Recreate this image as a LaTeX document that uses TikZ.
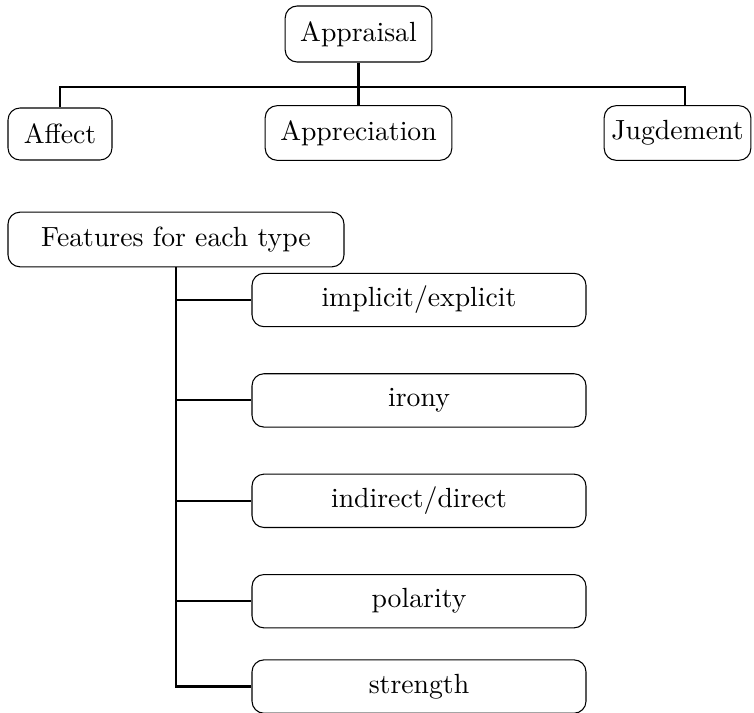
\documentclass[tikz,border=0pt]{standalone}
\usetikzlibrary{positioning}
\tikzset{cat node/.style={draw,rounded corners=4.5pt,inner sep=0pt,line width=0.4pt,minimum height=20.5pt,font=\fontsize{10.4}{12.5}\selectfont},
feat node/.style={cat node,minimum width=125.25pt,minimum height=20pt},
link/.style={line width=0.8pt},}
\newcommand{\br}[2]{\draw[link] (#1.south |- #2.west) -- (#2.west);}
\newcommand{\lastbr}[2]{\draw[link] (#1.south) |- (#2.west);}

\begin{document}
\begin{tikzpicture}[x=0.375pt,y=-0.375pt]
        \useasboundingbox (0,0) rectangle (754,712);

        % top tree
        \node[cat node,minimum width=55pt,minimum height=21pt] (appr) at (358.5,34) {Appraisal};
        \node[cat node,minimum width=39pt,minimum height=19.5pt] (aff) at (60,134) {Affect};
        \node[cat node,minimum width=70pt] (apprec) at (358.5,133) {Appreciation};
        \node[cat node,minimum width=55pt] (jud) at (677.5,133) {Jugdement};
        \coordinate (barR) at (685,87);

        \draw[link] (appr.south) -- (apprec.north);
        \draw[link] (aff.north) |- (barR) -- (barR |- jud.north);

        % features
        \node[cat node,minimum width=126pt] (feat) at (176,239.5) {Features for each type};
        \node[feat node] (impl) at (419,300) {implicit/explicit};
        \node[feat node] (irony) [below = 17.25pt of impl] {irony};
        \node[feat node] (indir) [below = 17.25pt of irony] {indirect/direct};
        \node[feat node] (pol) [below = 17.25pt of indir] {polarity};
        \node[feat node] (str) [below = 11.6pt of pol] {strength};

        \br{feat}{impl}
        \br{feat}{irony}
        \br{feat}{indir}
        \br{feat}{pol}
        \lastbr{feat}{str}
\end{tikzpicture}
\end{document}
